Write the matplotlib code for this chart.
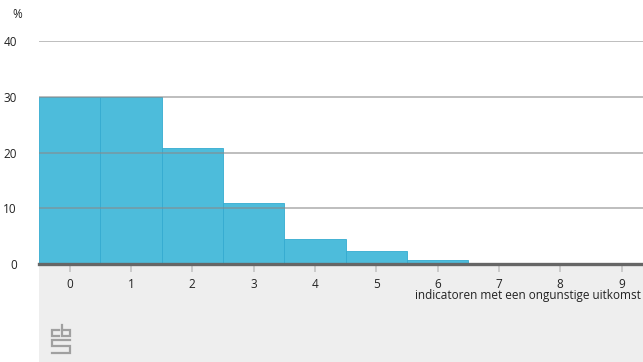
import numpy as np, matplotlib
matplotlib.use("Agg")
import matplotlib.pyplot as plt
from matplotlib.patches import Rectangle
from matplotlib.lines import Line2D

plt.rcParams.update({"font.family": ["Open Sans", "DejaVu Sans"], "font.size": 8.5,
                     "text.color": "#222222", "xtick.color": "#222222", "ytick.color": "#222222"})

categories = ["0", "1", "2", "3", "4", "5", "6", "7", "8", "9"]
values = [30.0, 30.0, 20.8, 10.9, 4.4, 2.3, 0.7, 0.1, 0.0, 0.0]
yticks = [0, 10, 20, 30, 40]
BLUE = "#4dbcdb"

W, H = 643, 362
fig = plt.figure(figsize=(W / 100, H / 100), dpi=100)
fig.patch.set_facecolor("white")
# grey band under the axis
fig.patches.append(Rectangle((39 / W, 0), 1 - 39 / W, 1 - 264 / H, transform=fig.transFigure,
                             facecolor="#eeeeee", edgecolor="none", zorder=-5))

ax = fig.add_axes([39 / W, 1 - 264 / H, 1 - 39 / W, (264 - 41) / H])
x = np.arange(len(categories))
ax.bar(x, values, width=1.0, color=BLUE, edgecolor="#34abd0", linewidth=0.6, zorder=1)
ax.set_xlim(-0.5, 9.35)
ax.set_ylim(0, 40)
ax.set_xticks(x)
ax.set_xticklabels(categories)
ax.set_yticks(yticks)
ax.grid(axis="y", color="#8a8a8a", lw=1.1, alpha=0.7, zorder=2)
ax.set_axisbelow(False)
for s in ("top", "right", "left"):
    ax.spines[s].set_visible(False)
ax.spines["bottom"].set_color("#666666")
ax.spines["bottom"].set_linewidth(2.4)
ax.spines["bottom"].set_zorder(3)
ax.tick_params(axis="x", length=6, width=1.2, color="#c4c4c4", pad=4)
ax.tick_params(axis="y", length=0, pad=16)

fig.text(12 / W, 1 - 15 / H, "%", ha="left", va="center")
fig.text(641 / W, 1 - 296 / H, "indicatoren met een ongunstige uitkomst", ha="right", va="center")

# cbs logo, drawn in pixel positions of the figure
def px(xs, ys):
    return [v / W for v in xs], [1 - v / H for v in ys]

logo = [
    ([59, 52, 52, 59], [330, 330, 336, 336]),            # c
    ([62, 62, 70, 70, 62], [325, 336, 336, 330, 330]),   # b
    ([70, 52, 52, 70, 70, 52], [340, 340, 346, 346, 353, 353]),  # s
]
for xs, ys in logo:
    lx, ly = px(xs, ys)
    fig.add_artist(Line2D(lx, ly, transform=fig.transFigure, color="#a0a0a0", lw=1.6,
                          solid_joinstyle="miter"))

fig.savefig("out.png", dpi=100, facecolor="white")
